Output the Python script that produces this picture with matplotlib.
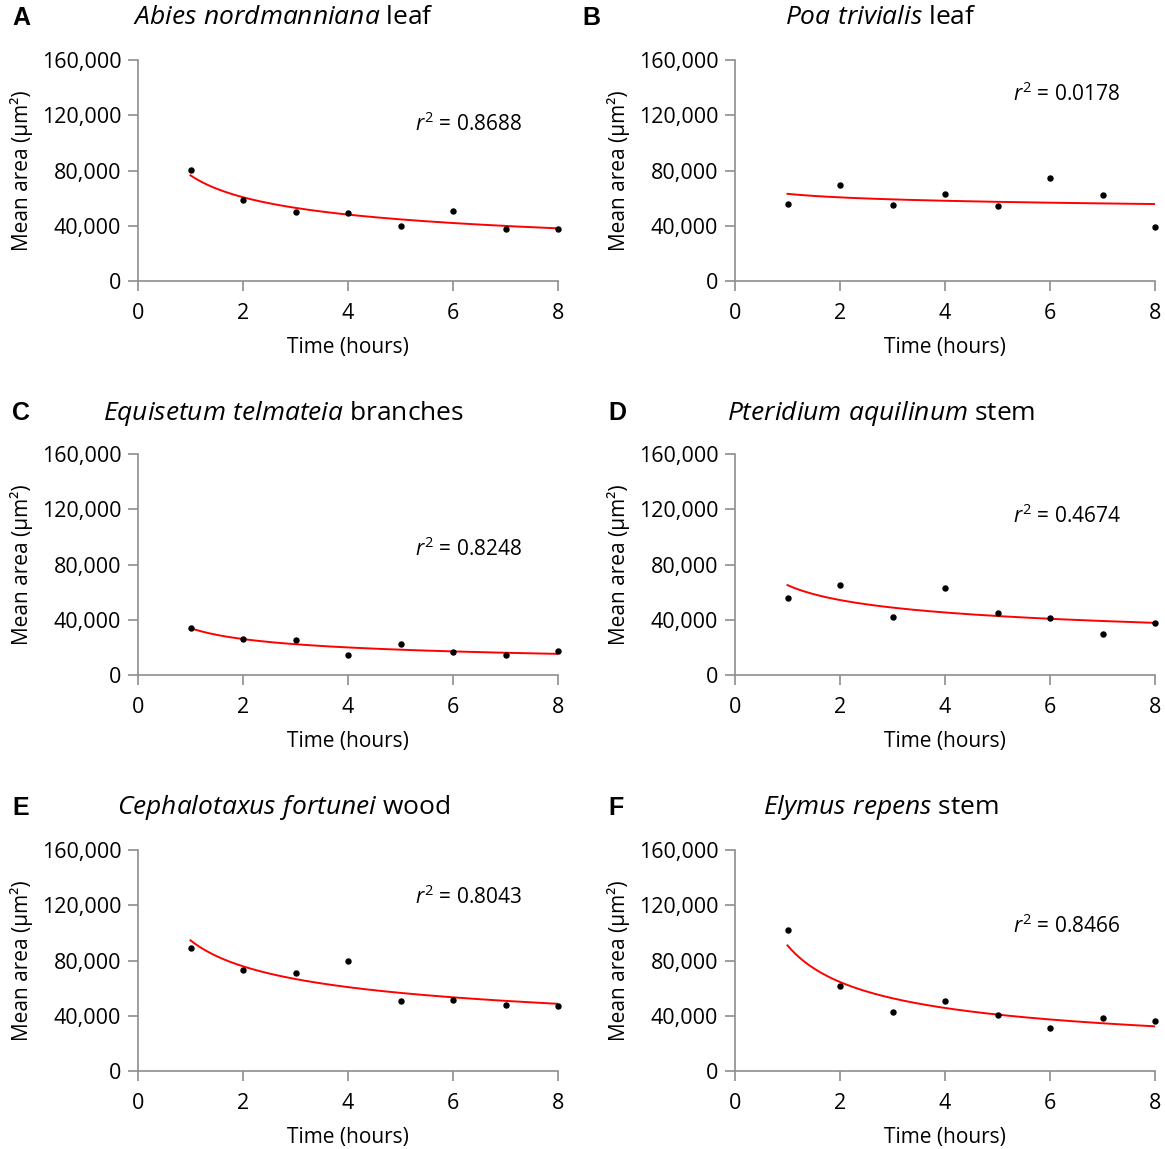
import numpy as np
import matplotlib
matplotlib.use("Agg")
import matplotlib.pyplot as plt
from matplotlib.ticker import FuncFormatter

plt.rcParams["font.family"] = ["Open Sans", "DejaVu Sans"]
plt.rcParams["mathtext.fontset"] = "custom"
plt.rcParams["mathtext.rm"] = "Open Sans"
plt.rcParams["mathtext.it"] = "Open Sans:italic"

hours = [1, 2, 3, 4, 5, 6, 7, 8]

letters = ["A", "B", "C", "D", "E", "F"]
species = ["Abies nordmanniana", "Poa trivialis", "Equisetum telmateia",
           "Pteridium aquilinum", "Cephalotaxus fortunei", "Elymus repens"]
organs = ["leaf", "leaf", "branches", "stem", "wood", "stem"]
r2_values = ["0.8688", "0.0178", "0.8248", "0.4674", "0.8043", "0.8466"]

area_a = [80100, 58700, 49800, 48900, 40000, 50800, 38000, 38000]
area_b = [56100, 69300, 55100, 63300, 54100, 74800, 62300, 39000]
area_c = [34300, 26100, 25400, 14600, 22100, 16300, 14600, 17300]
area_d = [55600, 64800, 42200, 63100, 45100, 41300, 29700, 37700]
area_e = [88900, 73000, 71100, 79300, 50700, 51700, 47800, 47100]
area_f = [102300, 61300, 42500, 50700, 40800, 31200, 38200, 36500]
areas = [area_a, area_b, area_c, area_d, area_e, area_f]

W, H = 1165, 1149
fig = plt.figure(figsize=(W / 100, H / 100), dpi=100)

col_left = [138, 735]
ax_w = 420
row_top = [60, 454, 850]
ax_h = 221
letter_x = [12, 582, 12, 608, 12, 608]
title_cx = [284, 881]
title_y = [18, 413, 808]
r2_x = [415, 1013]
r2_y = [124, 94, 549, 516, 897, 926]

grey = "#8e8e8e"
xs = np.array(hours, dtype=float)

for i in range(6):
    row, col = divmod(i, 2)
    left = col_left[col]
    top = row_top[row]
    ax = fig.add_axes([left / W, 1 - (top + ax_h) / H, ax_w / W, ax_h / H])

    ys = np.array(areas[i], dtype=float)
    # power trendline, as in a spreadsheet fit
    b, ln_a = np.polyfit(np.log(xs), np.log(ys), 1)
    xf = np.linspace(xs.min(), xs.max(), 200)
    ax.plot(xf, np.exp(ln_a) * xf ** b, color="red", lw=1.4, zorder=2)
    ax.plot(xs, ys, "o", color="black", ms=3.6, zorder=3, clip_on=False)

    ax.set_xlim(0, 8)
    ax.set_ylim(0, 160000)
    ax.set_xticks([0, 2, 4, 6, 8])
    ax.set_yticks([0, 40000, 80000, 120000, 160000])
    ax.yaxis.set_major_formatter(FuncFormatter(lambda v, p: f"{int(v):,}"))
    for s in ["top", "right"]:
        ax.spines[s].set_visible(False)
    for s in ["left", "bottom"]:
        ax.spines[s].set_color(grey)
        ax.spines[s].set_linewidth(1.2)
    ax.tick_params(direction="out", length=7, width=1.2, color=grey,
                   labelsize=15.5, labelcolor="black")
    ax.tick_params(axis="x", pad=9)
    ax.tick_params(axis="y", pad=5)
    ax.set_xlabel("Time (hours)", fontsize=15, labelpad=9)
    ax.set_ylabel("Mean area (µm²)", fontsize=15, labelpad=6)

    fig.text(letter_x[i] / W, 1 - title_y[row] / H, letters[i],
             fontsize=18, fontweight="bold", family="Liberation Sans",
             ha="left", va="center")
    sp = species[i].replace(" ", r"\ ")
    fig.text(title_cx[col] / W, 1 - title_y[row] / H,
             rf"$\mathit{{{sp}}}$ {organs[i]}", fontsize=19,
             ha="center", va="center")
    fig.text(r2_x[col] / W, 1 - r2_y[i] / H, rf"$r^{{\mathrm{{2}}}}$ = {r2_values[i]}",
             fontsize=15, ha="left", va="center")

fig.savefig("out.png", dpi=100)
